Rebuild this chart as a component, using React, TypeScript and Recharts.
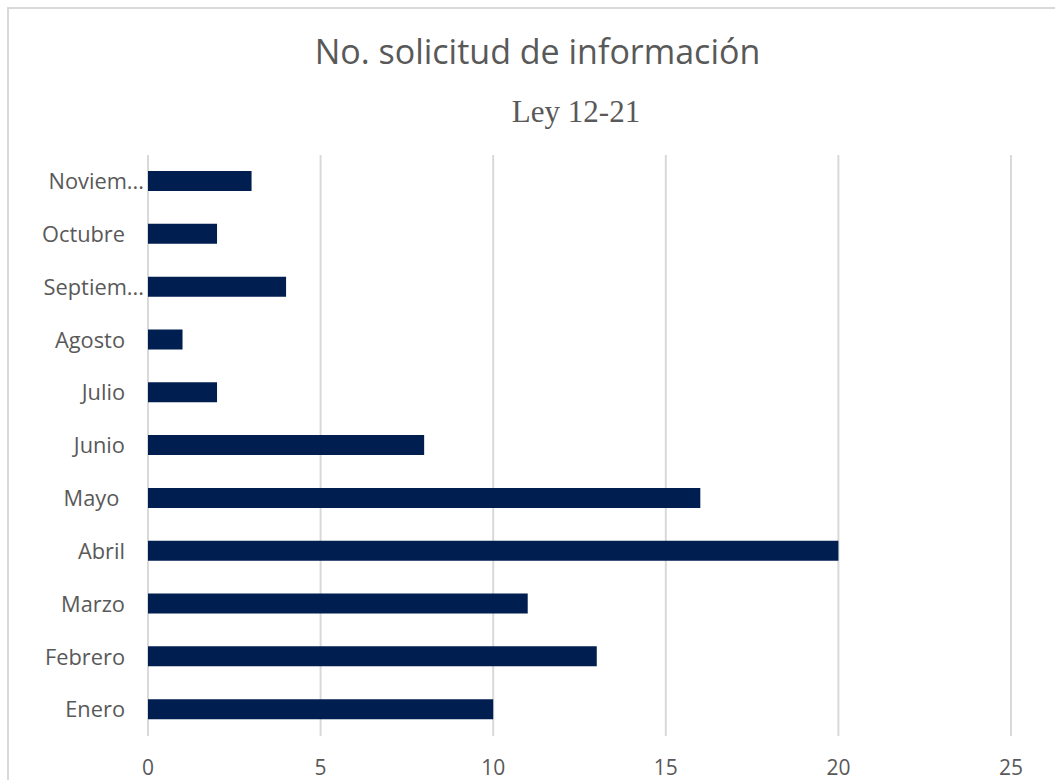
import React from "react";
import { BarChart, Bar, XAxis, YAxis, CartesianGrid } from "recharts";

const months = ["Enero", "Febrero", "Marzo", "Abril", "Mayo", "Junio", "Julio", "Agosto", "Septiembre", "Octubre", "Noviembre"];
const requests = [10, 13, 11, 20, 16, 8, 2, 1, 4, 2, 3];
const monthLabels = ["Enero", "Febrero", "Marzo", "Abril", "Mayo ", "Junio", "Julio", "Agosto", "Septiem...", "Octubre", "Noviem..."];
const xTicks = [0, 5, 10, 15, 20, 25];
const title = "No. solicitud de información";
const subtitle = "Ley 12-21";

const data = months.map((m, i) => ({ month: m, label: monthLabels[i], value: requests[i] }));

const LABEL_COLOR = "#595959";
const FONT = "'Open Sans', sans-serif";

const YTick = (props: any) => {
  const { x, y, payload } = props;
  const idx = months.indexOf(payload.value);
  const text = monthLabels[idx] ?? payload.value;
  const truncated = text.endsWith("...");
  return (
    <text
      x={truncated ? x : x - 19}
      y={y}
      dy="0.355em"
      textAnchor="end"
      fill={LABEL_COLOR}
      fontSize={21.8}
      fontFamily={FONT}
      style={{ whiteSpace: "pre" }}
    >
      {text}
    </text>
  );
};

export default function App() {
  return (
    <div style={{ position: "fixed", left: 0, top: 0, width: 1055, height: 780, overflow: "hidden", background: "#fff" }}>
      <div
        style={{
          position: "absolute",
          left: 7,
          top: 7,
          width: 1200,
          height: 900,
          border: "2px solid #d9d9d9",
          boxSizing: "border-box",
        }}
      />
      <svg width={1055} height={780} style={{ position: "absolute", left: 0, top: 0 }}>
        <text x={537.5} y={64} textAnchor="middle" fontFamily={FONT} fontSize={34} fill={LABEL_COLOR}>
          {title}
        </text>
        <text x={576} y={122} textAnchor="middle" fontFamily="'Liberation Serif', serif" fontSize={31} fill={LABEL_COLOR}>
          {subtitle}
        </text>
      </svg>
      <div style={{ position: "absolute", left: 0, top: 0 }}>
        <BarChart
          width={1055}
          height={780}
          data={data}
          layout="vertical"
          margin={{ top: 155, right: 44, bottom: 0, left: 0 }}
        >
          <CartesianGrid horizontal={false} stroke="#d9d9d9" strokeWidth={2} />
          <XAxis
            type="number"
            domain={[0, 25]}
            ticks={xTicks}
            axisLine={false}
            tickLine={false}
            height={44}
            tickMargin={18}
            tick={{ fill: LABEL_COLOR, fontSize: 21, fontFamily: FONT }}
          />
          <YAxis
            type="category"
            dataKey="month"
            reversed
            width={148}
            axisLine={false}
            tickLine={false}
            tickSize={0}
            tickMargin={4}
            tick={<YTick />}
            interval={0}
          />
          <Bar dataKey="value" fill="#001E50" barSize={20} isAnimationActive={false} />
        </BarChart>
      </div>
    </div>
  );
}
